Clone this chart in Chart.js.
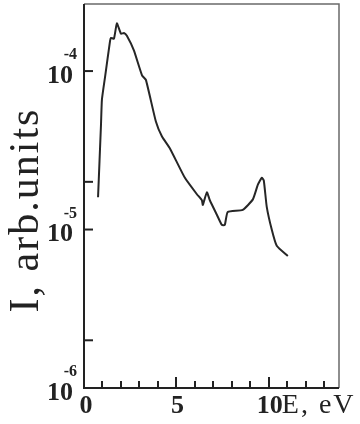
<!DOCTYPE html>
<html>
<head>
<meta charset="utf-8">
<script src="https://cdn.jsdelivr.net/npm/chart.js@4"></script>
<style>
  html, body { margin: 0; padding: 0; background: #fff; }
  #wrap { width: 360px; height: 424px; }
</style>
</head>
<body>
<div id="wrap"><canvas id="spectrum" width="360" height="424"></canvas></div>
<script>
// 数据：能量 (eV) 与强度 (arb. units)
const energy = [0.76, 0.92, 0.97, 1.14, 1.41, 1.46, 1.62, 1.78, 2.0, 2.16, 2.32, 2.70, 3.14, 3.35, 3.89,
  4.22, 4.65, 5.46, 6.11, 6.38, 6.43, 6.65, 6.81, 7.19, 7.46, 7.62, 7.78, 8.59, 9.14, 9.41, 9.62,
  9.73, 9.89, 10.16, 10.43, 11.03];
const intensity = [1.6e-5, 4.6e-5, 6.6e-5, 9.2e-5, 1.55e-4, 1.62e-4, 1.6e-4, 2.0e-4, 1.72e-4, 1.74e-4, 1.67e-4,
  1.35e-4, 9.4e-5, 8.8e-5, 4.8e-5, 3.86e-5, 3.25e-5, 2.12e-5, 1.67e-5, 1.53e-5, 1.43e-5, 1.72e-5,
  1.53e-5, 1.24e-5, 1.07e-5, 1.07e-5, 1.29e-5, 1.33e-5, 1.55e-5, 1.92e-5, 2.12e-5, 2.04e-5,
  1.39e-5, 1.0e-5, 7.9e-6, 6.8e-6];

// 刻度
const xTicks = [1, 2, 3, 4, 5, 6, 7, 8, 9, 10, 11, 12, 13];
const xMajor = [5, 10];
const xLabels = ['0', '5', '10'];
const yTicks = [2e-6, 1e-5, 2e-5, 1e-4];
const yDecades = [-6, -5, -4];

const X_MIN = 0, X_MAX = 13.8;
const Y_MIN = 1e-6, Y_MAX = 2.65e-4;

// 坐标框、刻度和文字
const framePlugin = {
  id: 'frame',
  afterDraw(chart) {
    const { ctx, chartArea: a } = chart;
    const xs = chart.scales.x, ys = chart.scales.y;
    ctx.save();

    // 上边和右边：灰色细线
    ctx.strokeStyle = '#6a6a6a';
    ctx.lineWidth = 1.5;
    ctx.beginPath();
    ctx.moveTo(a.left, a.top);
    ctx.lineTo(a.right, a.top);
    ctx.lineTo(a.right, a.bottom);
    ctx.stroke();

    // 左边和下边：黑色坐标轴
    ctx.strokeStyle = '#222';
    ctx.lineWidth = 2;
    ctx.beginPath();
    ctx.moveTo(a.left, a.top);
    ctx.lineTo(a.left, a.bottom);
    ctx.lineTo(a.right, a.bottom);
    ctx.stroke();

    // 向内的刻度
    ctx.lineWidth = 2;
    xTicks.forEach(v => {
      const px = Math.round(xs.getPixelForValue(v));
      const len = xMajor.includes(v) ? 11 : 7;
      ctx.beginPath();
      ctx.moveTo(px, a.bottom);
      ctx.lineTo(px, a.bottom - len);
      ctx.stroke();
    });
    yTicks.forEach(v => {
      const py = ys.getPixelForValue(v);
      ctx.beginPath();
      ctx.moveTo(a.left, py);
      ctx.lineTo(a.left + 9, py);
      ctx.stroke();
    });

    ctx.fillStyle = '#222';

    // x 轴数字
    ctx.font = 'bold 26px "Liberation Serif", serif';
    ctx.textAlign = 'center';
    ctx.textBaseline = 'alphabetic';
    xLabels.forEach(t => {
      const px = xs.getPixelForValue(Number(t));
      ctx.fillText(t, px + (t === '0' ? 2 : 1), a.bottom + 25);
    });

    // x 轴标题
    ctx.font = '28px "Liberation Serif", serif';
    ctx.textAlign = 'left';
    ctx.letterSpacing = '2px';
    ctx.fillText('E, eV', xs.getPixelForValue(10) + 13, a.bottom + 25);
    ctx.letterSpacing = '0px';

    // y 轴数字 10^n
    yDecades.forEach(e => {
      const py = ys.getPixelForValue(Math.pow(10, e));
      ctx.textAlign = 'right';
      ctx.textBaseline = 'middle';
      ctx.font = 'bold 26px "Liberation Serif", serif';
      ctx.fillText('10', a.left - 11, py + 5);
      ctx.textBaseline = 'alphabetic';
      ctx.font = 'bold 16px "Liberation Serif", serif';
      ctx.fillText(String(e), a.left - 7, py - 12);
    });

    // y 轴标题
    ctx.save();
    ctx.translate(27, 210);
    ctx.rotate(-Math.PI / 2);
    ctx.textAlign = 'center';
    ctx.textBaseline = 'middle';
    ctx.font = '42px "Liberation Serif", serif';
    ctx.letterSpacing = '2px';
    ctx.fillText('I, arb.units', 0, 0);
    ctx.restore();

    ctx.restore();
  }
};

new Chart(document.getElementById('spectrum'), {
  type: 'line',
  data: {
    datasets: [{
      data: energy.map((e, i) => ({ x: e, y: intensity[i] })),
      borderColor: '#262626',
      borderWidth: 2,
      pointRadius: 0,
      tension: 0.15,
      fill: false
    }]
  },
  options: {
    responsive: false,
    animation: false,
    layout: { padding: { left: 84, top: 4, right: 21, bottom: 36 } },
    plugins: { legend: { display: false }, tooltip: { enabled: false } },
    scales: {
      x: { type: 'linear', min: X_MIN, max: X_MAX, display: false },
      y: { type: 'logarithmic', min: Y_MIN, max: Y_MAX, display: false }
    }
  },
  plugins: [framePlugin]
});
</script>
</body>
</html>
